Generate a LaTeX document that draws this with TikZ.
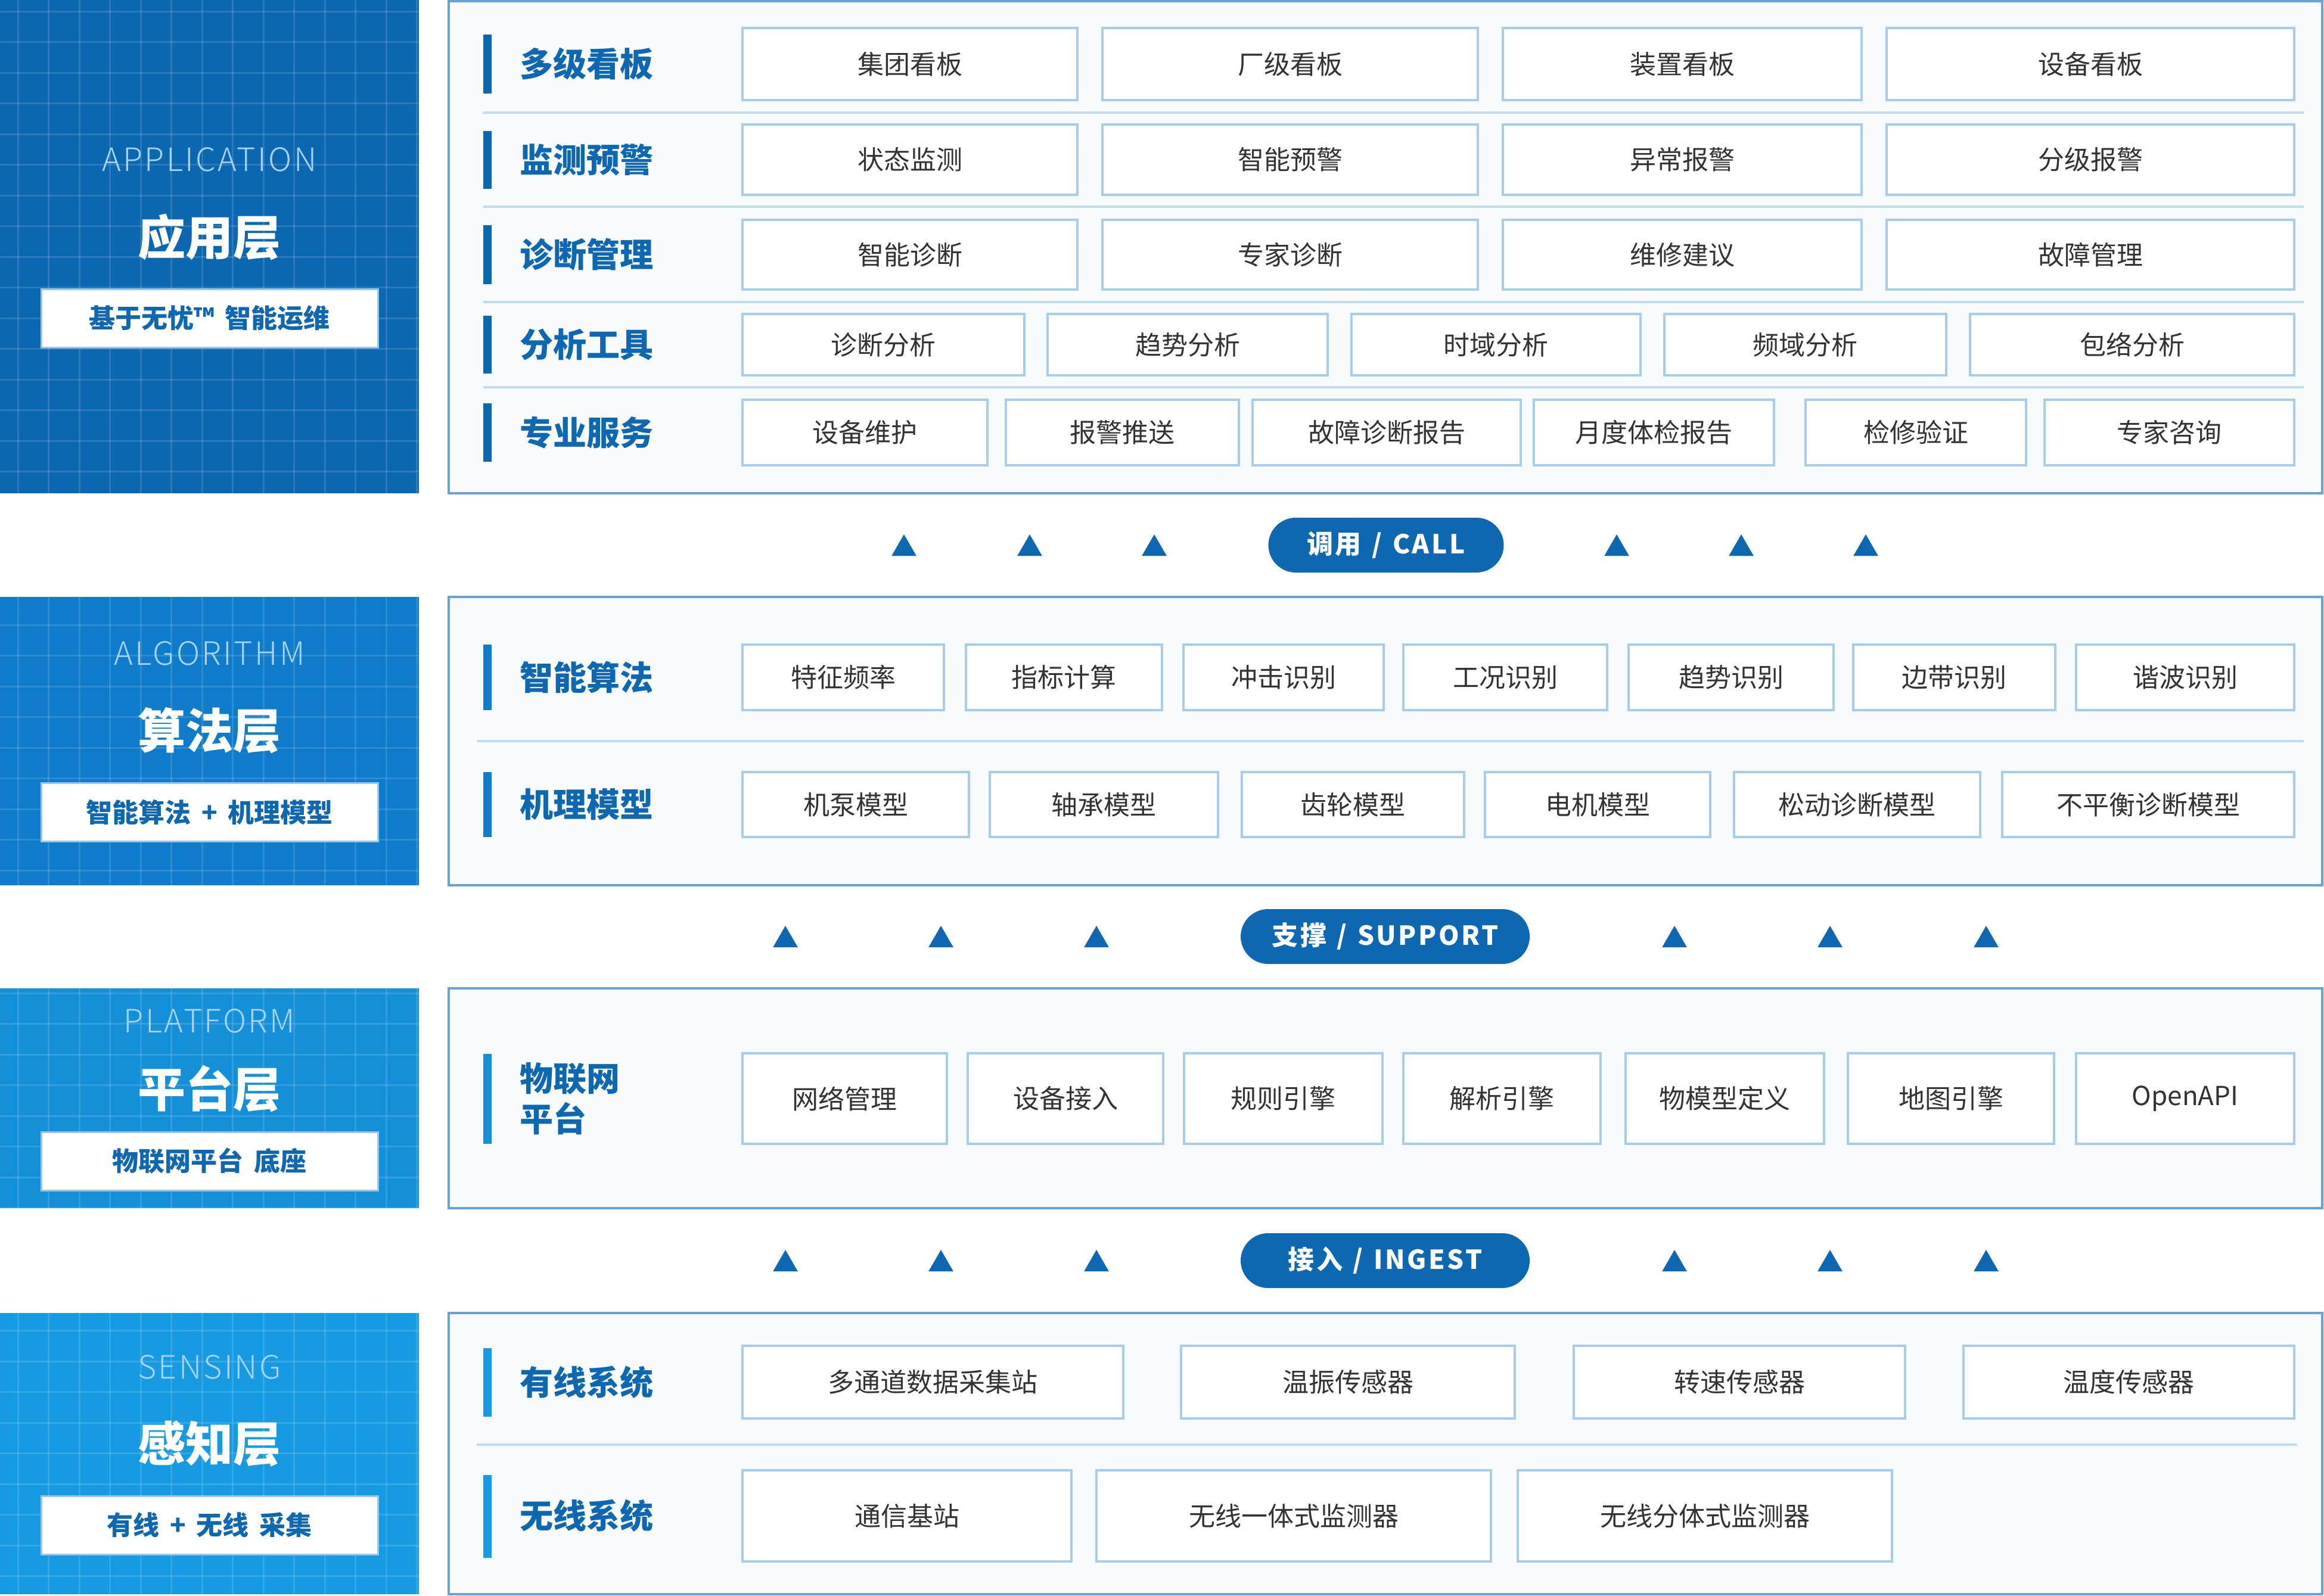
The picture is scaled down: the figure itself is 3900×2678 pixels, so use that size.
\documentclass[tikz,border=0pt]{standalone}
\usepackage{fontspec}
\setmainfont{Noto Sans CJK SC}
\newfontfamily\lightfont{Noto Sans CJK SC Light}
\usetikzlibrary{shapes.geometric, positioning}

\definecolor{appblue}{RGB}{12,103,177}
\definecolor{algoblue}{RGB}{14,124,203}
\definecolor{platblue}{RGB}{20,144,217}
\definecolor{senseblue}{RGB}{22,155,227}
\definecolor{labelblue}{RGB}{13,104,177}
\definecolor{panelline}{RGB}{105,163,211}
\definecolor{panelfill}{RGB}{248,251,254}
\definecolor{itemline}{RGB}{168,205,234}
\definecolor{sepline}{RGB}{192,220,240}
\definecolor{itemtext}{RGB}{51,51,51}
\definecolor{englight}{RGB}{166,211,242}
\definecolor{tagline}{RGB}{156,198,230}

\newcommand{\gap}{\hspace{0.4em}}

\tikzstyle{side} = [rectangle, inner sep=0pt, outer sep=0pt]
\tikzstyle{panel} = [rectangle, draw=panelline, line width=4pt, fill=panelfill, inner sep=0pt]
\tikzstyle{gridline} = [draw=white, opacity=0.13, line width=3pt]
\tikzstyle{eng} = [text=englight, inner sep=0pt, font=\lightfont\fontsize{54}{60}\selectfont\addfontfeatures{LetterSpace=6}]
\tikzstyle{layername} = [text=white, inner sep=0pt, font=\bfseries\fontsize{80}{90}\selectfont]
\tikzstyle{tagbox} = [rectangle, fill=white, draw=tagline, line width=3pt, minimum width=565pt, minimum height=98pt, text=labelblue, font=\bfseries\fontsize{44}{54}\selectfont]
\tikzstyle{cat} = [anchor=west, inner sep=0pt, align=left, text=labelblue, font=\bfseries\fontsize{56}{68}\selectfont]
\tikzstyle{catbar} = [rectangle, inner sep=0pt, minimum width=14pt]
\tikzstyle{sep} = [draw=sepline, line width=4pt]
\tikzstyle{item} = [rectangle, draw=itemline, line width=3.5pt, fill=white, inner sep=0pt, text=itemtext, font=\fontsize{44}{52}\selectfont]
\tikzstyle{pill} = [rectangle, rounded corners=46pt, fill=labelblue, minimum height=92pt, inner sep=0pt, text=white, font=\bfseries\fontsize{44}{52}\selectfont\addfontfeatures{LetterSpace=8}]
\tikzstyle{flow} = [regular polygon, regular polygon sides=3, fill=labelblue, inner sep=0pt, minimum size=48pt]

\begin{document}
\begin{tikzpicture}[x=1pt, y=-1pt]
\useasboundingbox (0,0) rectangle (3900,2678);

% left side blocks
\node (appside) [side, fill=appblue, minimum width=703pt, minimum height=828pt] at (351.5,414) {};
\node (algside) [side, fill=algoblue, minimum width=703pt, minimum height=484pt] at (351.5,1244) {};
\node (platside) [side, fill=platblue, minimum width=703pt, minimum height=369pt] at (351.5,1843.5) {};
\node (senseside) [side, fill=senseblue, minimum width=703pt, minimum height=472pt] at (351.5,2440) {};

\begin{scope}
\clip (0,0) rectangle (703,828) (0,1002) rectangle (703,1486) (0,1659) rectangle (703,2028) (0,2204) rectangle (703,2676);
\foreach \i in {0,...,13} \draw [gridline] (30+51.5*\i,0) -- (30+51.5*\i,2678);
\foreach \j in {0,...,51} \draw [gridline] (0,19+51.5*\j) -- (703,19+51.5*\j);
\end{scope}

\node (appen) [eng] at (351.5,268) {APPLICATION};
\node (appname) [layername] at (351.5,398) {应用层};
\node (apptag) [tagbox] at (351.5,534) {基于无忧™\gap{}智能运维};

\node (algen) [eng] at (351.5,1097) {ALGORITHM};
\node (algname) [layername] at (351.5,1226) {算法层};
\node (algtag) [tagbox] at (351.5,1363.5) {智能算法\gap{}+\gap{}机理模型};

\node (platen) [eng] at (351.5,1714) {PLATFORM};
\node (platname) [layername] at (351.5,1828) {平台层};
\node (plattag) [tagbox] at (351.5,1949) {物联网平台\gap{}底座};

\node (senseen) [eng] at (351.5,2295) {SENSING};
\node (sensename) [layername] at (351.5,2423) {感知层};
\node (sensetag) [tagbox] at (351.5,2560) {有线\gap{}+\gap{}无线\gap{}采集};

% right side panels
\node (apppanel) [panel, minimum width=3144pt, minimum height=826pt] at (2325,415) {};
\node (algpanel) [panel, minimum width=3144pt, minimum height=484pt] at (2325,1244) {};
\node (platpanel) [panel, minimum width=3144pt, minimum height=369pt] at (2325,1843.5) {};
\node (sensepanel) [panel, minimum width=3144pt, minimum height=472pt] at (2325,2440) {};

% application layer
\draw [sep] (811,189) -- (3866,189);
\draw [sep] (811,347) -- (3866,347);
\draw [sep] (811,507) -- (3866,507);
\draw [sep] (811,650) -- (3866,650);

\node (bar1) [catbar, fill=appblue, minimum height=99pt] at (818,107) {};
\node (dash) [cat] at (872,107) {多级看板};
\node (dash1) [item, minimum width=562pt, minimum height=121pt] at (1527,107.5) {集团看板};
\node (dash2) [item, minimum width=630pt, minimum height=121pt] at (2165,107.5) {厂级看板};
\node (dash3) [item, minimum width=602pt, minimum height=121pt] at (2823,107.5) {装置看板};
\node (dash4) [item, minimum width=684pt, minimum height=121pt] at (3508,107.5) {设备看板};

\node (bar2) [catbar, fill=appblue, minimum height=97pt] at (818,268) {};
\node (mon) [cat] at (872,268) {监测预警};
\node (mon1) [item, minimum width=562pt, minimum height=118pt] at (1527,268) {状态监测};
\node (mon2) [item, minimum width=630pt, minimum height=118pt] at (2165,268) {智能预警};
\node (mon3) [item, minimum width=602pt, minimum height=118pt] at (2823,268) {异常报警};
\node (mon4) [item, minimum width=684pt, minimum height=118pt] at (3508,268) {分级报警};

\node (bar3) [catbar, fill=appblue, minimum height=99pt] at (818,427.5) {};
\node (diag) [cat] at (872,427.5) {诊断管理};
\node (diag1) [item, minimum width=562pt, minimum height=117pt] at (1527,427.5) {智能诊断};
\node (diag2) [item, minimum width=630pt, minimum height=117pt] at (2165,427.5) {专家诊断};
\node (diag3) [item, minimum width=602pt, minimum height=117pt] at (2823,427.5) {维修建议};
\node (diag4) [item, minimum width=684pt, minimum height=117pt] at (3508,427.5) {故障管理};

\node (bar4) [catbar, fill=appblue, minimum height=97pt] at (818,578.5) {};
\node (tool) [cat] at (872,578.5) {分析工具};
\node (tool1) [item, minimum width=473pt, minimum height=103pt] at (1482.5,578.5) {诊断分析};
\node (tool2) [item, minimum width=470pt, minimum height=103pt] at (1993,578.5) {趋势分析};
\node (tool3) [item, minimum width=485pt, minimum height=103pt] at (2510.5,578.5) {时域分析};
\node (tool4) [item, minimum width=473pt, minimum height=103pt] at (3029.5,578.5) {频域分析};
\node (tool5) [item, minimum width=544pt, minimum height=103pt] at (3578,578.5) {包络分析};

\node (bar5) [catbar, fill=appblue, minimum height=98pt] at (818,726) {};
\node (serv) [cat] at (872,726) {专业服务};
\node (serv1) [item, minimum width=411pt, minimum height=110pt] at (1451.5,726) {设备维护};
\node (serv2) [item, minimum width=391pt, minimum height=110pt] at (1883.5,726) {报警推送};
\node (serv3) [item, minimum width=450pt, minimum height=110pt] at (2327,726) {故障诊断报告};
\node (serv4) [item, minimum width=403pt, minimum height=110pt] at (2775.5,726) {月度体检报告};
\node (serv5) [item, minimum width=370pt, minimum height=110pt] at (3215,726) {检修验证};
\node (serv6) [item, minimum width=419pt, minimum height=110pt] at (3640.5,726) {专家咨询};

% call
\node (up1) [flow] at (1517,921) {};
\node (up2) [flow] at (1728,921) {};
\node (up3) [flow] at (1937,921) {};
\node (call) [pill, minimum width=395pt] at (2326,915) {调用\gap{}/\gap{}CALL};
\node (up4) [flow] at (2713,921) {};
\node (up5) [flow] at (2922,921) {};
\node (up6) [flow] at (3131,921) {};

% algorithm layer
\draw [sep] (800,1244) -- (3866,1244);

\node (bar6) [catbar, fill=algoblue, minimum height=110pt] at (818,1137) {};
\node (alg) [cat] at (872,1137) {智能算法};
\node (alg1) [item, minimum width=338pt, minimum height=110pt] at (1415,1137) {特征频率};
\node (alg2) [item, minimum width=329pt, minimum height=110pt] at (1785.5,1137) {指标计算};
\node (alg3) [item, minimum width=336pt, minimum height=110pt] at (2154,1137) {冲击识别};
\node (alg4) [item, minimum width=342pt, minimum height=110pt] at (2526,1137) {工况识别};
\node (alg5) [item, minimum width=344pt, minimum height=110pt] at (2905,1137) {趋势识别};
\node (alg6) [item, minimum width=339pt, minimum height=110pt] at (3279.5,1137) {边带识别};
\node (alg7) [item, minimum width=366pt, minimum height=110pt] at (3667,1137) {谐波识别};

\node (bar7) [catbar, fill=algoblue, minimum height=109pt] at (818,1350.5) {};
\node (mod) [cat] at (872,1350.5) {机理模型};
\node (mod1) [item, minimum width=380pt, minimum height=109pt] at (1436,1350.5) {机泵模型};
\node (mod2) [item, minimum width=383pt, minimum height=109pt] at (1852.5,1350.5) {轴承模型};
\node (mod3) [item, minimum width=373pt, minimum height=109pt] at (2270.5,1350.5) {齿轮模型};
\node (mod4) [item, minimum width=378pt, minimum height=109pt] at (2681,1350.5) {电机模型};
\node (mod5) [item, minimum width=413pt, minimum height=109pt] at (3116.5,1350.5) {松动诊断模型};
\node (mod6) [item, minimum width=490pt, minimum height=109pt] at (3605,1350.5) {不平衡诊断模型};

% support
\node (sup1) [flow] at (1318,1578) {};
\node (sup2) [flow] at (1579,1578) {};
\node (sup3) [flow] at (1840,1578) {};
\node (support) [pill, minimum width=485pt] at (2324.5,1572) {支撑\gap{}/\gap{}SUPPORT};
\node (sup4) [flow] at (2810,1578) {};
\node (sup5) [flow] at (3071,1578) {};
\node (sup6) [flow] at (3333,1578) {};

% platform layer
\node (bar8) [catbar, fill=platblue, minimum height=151pt] at (818,1844) {};
\node (iot) [cat] at (872,1844) {物联网\\平台};
\node (iot1) [item, minimum width=343pt, minimum height=152pt] at (1417.5,1844) {网络管理};
\node (iot2) [item, minimum width=328pt, minimum height=152pt] at (1788,1844) {设备接入};
\node (iot3) [item, minimum width=333pt, minimum height=152pt] at (2153.5,1844) {规则引擎};
\node (iot4) [item, minimum width=331pt, minimum height=152pt] at (2520.5,1844) {解析引擎};
\node (iot5) [item, minimum width=333pt, minimum height=152pt] at (2894.5,1844) {物模型定义};
\node (iot6) [item, minimum width=346pt, minimum height=152pt] at (3274,1844) {地图引擎};
\node (iot7) [item, minimum width=366pt, minimum height=152pt] at (3667,1844) {OpenAPI};

% ingest
\node (in1) [flow] at (1318,2122) {};
\node (in2) [flow] at (1579,2122) {};
\node (in3) [flow] at (1840,2122) {};
\node (ingest) [pill, minimum width=485pt] at (2324.5,2116) {接入\gap{}/\gap{}INGEST};
\node (in4) [flow] at (2810,2122) {};
\node (in5) [flow] at (3071,2122) {};
\node (in6) [flow] at (3333,2122) {};

% sensing layer
\draw [sep] (800,2425) -- (3855,2425);

\node (bar9) [catbar, fill=senseblue, minimum height=115pt] at (818,2320.5) {};
\node (wire) [cat] at (872,2320) {有线系统};
\node (wire1) [item, minimum width=639pt, minimum height=122pt] at (1565.5,2320) {多通道数据采集站};
\node (wire2) [item, minimum width=560pt, minimum height=122pt] at (2262,2320) {温振传感器};
\node (wire3) [item, minimum width=556pt, minimum height=122pt] at (2919,2320) {转速传感器};
\node (wire4) [item, minimum width=555pt, minimum height=122pt] at (3572.5,2320) {温度传感器};

\node (bar10) [catbar, fill=senseblue, minimum height=139pt] at (818,2545.5) {};
\node (wless) [cat] at (872,2544.5) {无线系统};
\node (wless1) [item, minimum width=552pt, minimum height=153pt] at (1522,2544.5) {通信基站};
\node (wless2) [item, minimum width=662pt, minimum height=153pt] at (2171,2544.5) {无线一体式监测器};
\node (wless3) [item, minimum width=628pt, minimum height=153pt] at (2861,2544.5) {无线分体式监测器};
\end{tikzpicture}
\end{document}
